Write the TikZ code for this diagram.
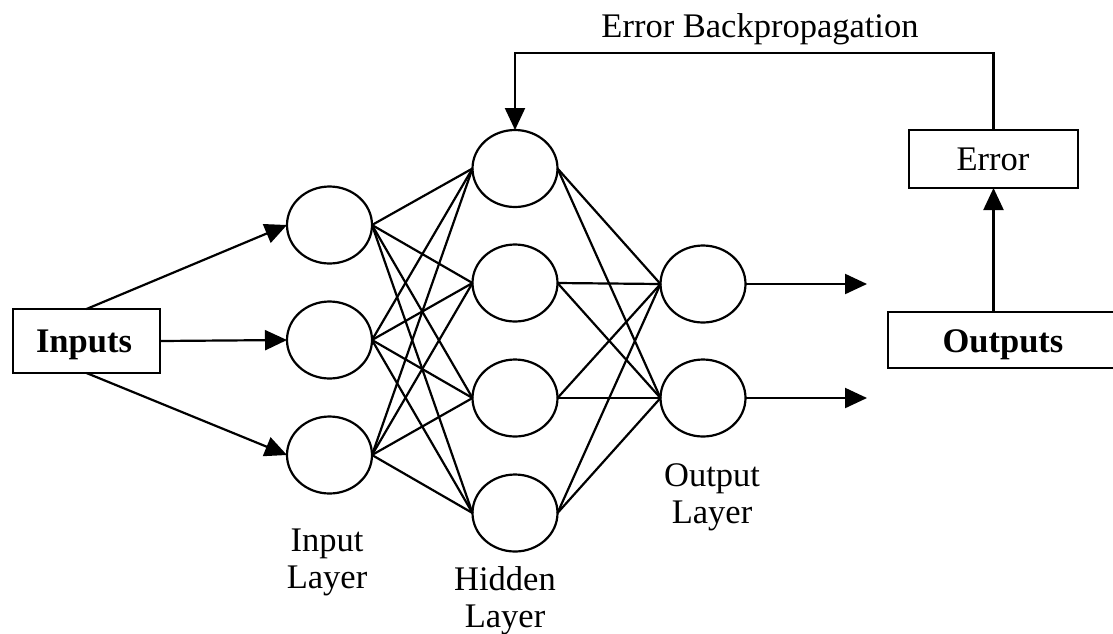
\documentclass[tikz,border=0pt]{standalone}
\usepackage{fontspec}
\setmainfont{Liberation Serif}
\usetikzlibrary{shapes.geometric,arrows.meta}
\tikzset{
  neuron/.style={ellipse,draw,line width=2.2pt,minimum width=85pt,minimum height=77pt,inner sep=0pt,outer sep=0pt},
  boxnode/.style={rectangle,draw,line width=2.2pt,inner sep=0pt,outer sep=0pt},
  lbl/.style={font=\fontsize{34.5}{37}\selectfont,align=center,inner sep=0pt},
  conn/.style={line width=2.2pt},
  arr/.style={line width=2.2pt,-{Triangle[length=22pt,width=20pt]}}
}
\begin{document}
\begin{tikzpicture}[x=1pt,y=-1pt]
\useasboundingbox (0,0) rectangle (1113,633);
% boxes
\node[boxnode,minimum width=147pt,minimum height=64pt] (inp) at (86.5,341) {};
\node[lbl,anchor=base] (inptxt) at (84,352) {\bfseries Inputs};
\node[boxnode,minimum width=169pt,minimum height=58pt] (err) at (993.5,159) {};
\node[lbl,anchor=base] (errtxt) at (993,170) {Error};
\node[boxnode,minimum width=232pt,minimum height=56pt] (out) at (1004,340) {};
\node[lbl,anchor=base] (outtxt) at (1003,352) {\bfseries Outputs};
% neurons
\node[neuron] (i1) at (329.5,225) {};
\node[neuron] (i2) at (329.5,340) {};
\node[neuron] (i3) at (329.5,455) {};
\node[neuron] (h1) at (515,168.5) {};
\node[neuron] (h2) at (515,283) {};
\node[neuron] (h3) at (515,398) {};
\node[neuron] (h4) at (515,513) {};
\node[neuron] (o1) at (703,284) {};
\node[neuron] (o2) at (703,398) {};
% labels (base anchor = baseline of last line)
\node[lbl,anchor=base] (lin) at (327,588) {Input\\Layer};
\node[lbl,anchor=base] (lhid) at (505,627) {Hidden\\Layer};
\node[lbl,anchor=base] (lout) at (712,523) {Output\\Layer};
\node[lbl,anchor=base] (lerr) at (760,37) {Error Backpropagation};
% input arrows
\draw[arr] (inp.north) -- (i1.west);
\draw[arr] (inp.east) -- (i2.west);
\draw[arr] (inp.south) -- (i3.west);
% connections
\foreach \a in {i1,i2,i3}{
  \foreach \b in {h1,h2,h3,h4}{
    \draw[conn] (\a.east) -- (\b.west);
  }
}
\foreach \a in {h1,h2,h3,h4}{
  \foreach \b in {o1,o2}{
    \draw[conn] (\a.east) -- (\b.west);
  }
}
% output arrows
\coordinate (e1) at (867,284);
\coordinate (e2) at (867,398);
\draw[arr] (o1.east) -- (e1);
\draw[arr] (o2.east) -- (e2);
% error path
\draw[arr] (out.north -| err.south) -- (err.south);
\coordinate (fb) at (0,53);
\draw[arr] (err.north) -- (err.north |- fb) -- (h1.north |- fb) -- (h1.north);
\end{tikzpicture}
\end{document}
